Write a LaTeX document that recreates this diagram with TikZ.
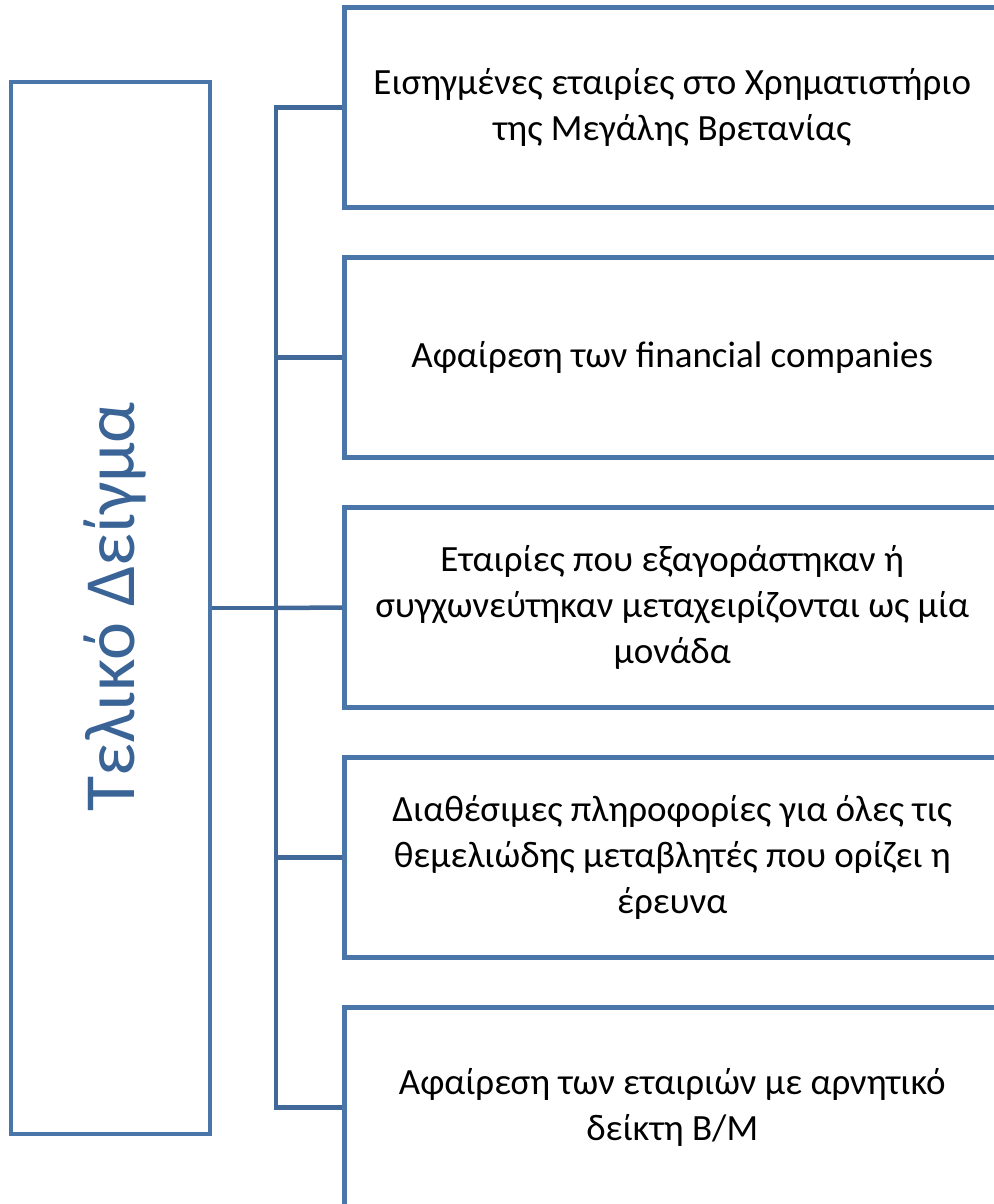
\documentclass[tikz,border=0pt]{standalone}
\usepackage{fontspec}
\setmainfont{Carlito}
\definecolor{boxblue}{RGB}{74,118,170}
\definecolor{linkblue}{RGB}{64,104,152}
\definecolor{titleblue}{RGB}{58,99,150}
\begin{document}
\begin{tikzpicture}[x=1pt,y=-1pt,
  frame/.style={draw=boxblue,line width=4.5pt,fill=white,inner sep=0pt},
  item/.style={frame,minimum width=656pt,minimum height=200pt,anchor=west,
    align=center,font=\fontsize{37}{46}\selectfont,text=black},
  link/.style={draw=linkblue,line width=4.5pt}]
\useasboundingbox (0,0) rectangle (993,1204);
\fill[white] (0,0) rectangle (993,1204);
\node[frame,minimum width=199pt,minimum height=1052pt] (main) at (110.5,608) {};
\node[rotate=90,text=titleblue,font=\fontsize{72}{86}\selectfont] (title) at (115,607) {Τελικό Δείγμα};
\coordinate (bus) at (276,608);
\node[item] (b1) at (342,107.5) {Εισηγμένες εταιρίες στο Χρηματιστήριο\\της Μεγάλης Βρετανίας};
\node[item] (b2) at (342,357.5) {Αφαίρεση των financial companies};
\node[item] (b3) at (342,607.5) {Εταιρίες που εξαγοράστηκαν ή\\συγχωνεύτηκαν μεταχειρίζονται ως μία\\μονάδα};
\node[item] (b4) at (342,857.5) {Διαθέσιμες πληροφορίες για όλες τις\\θεμελιώδης μεταβλητές που ορίζει η\\έρευνα};
\node[item] (b5) at (342,1107.5) {Αφαίρεση των εταιριών με αρνητικό\\δείκτη Β/Μ};
\draw[link] (main.east) -- (bus);
\draw[link] (b1.west) -| (bus) |- (b5.west);
\draw[link] (bus) -- (b3.west);
\draw[link] (b2.west) -- (b2.west -| bus);
\draw[link] (b4.west) -- (b4.west -| bus);
\end{tikzpicture}
\end{document}
